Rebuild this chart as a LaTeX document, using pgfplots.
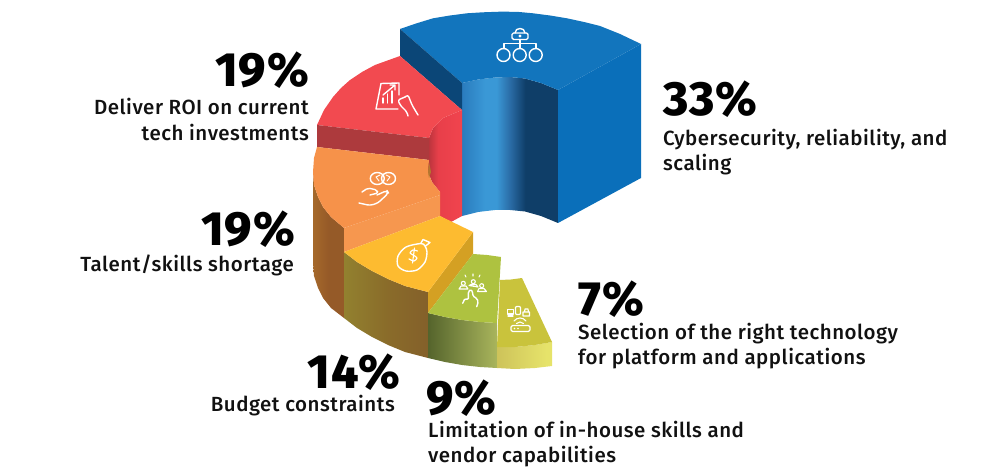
\documentclass[border=0pt]{standalone}
\usepackage{pgfplots}
\pgfplotsset{compat=1.18}
\usepackage{fontspec}
\setmainfont{Fira Sans}
\newfontfamily\lab[LetterSpace=2.5]{Fira Sans Medium}
\newfontfamily\pct[LetterSpace=2]{Fira Sans ExtraBold}
\definecolor{HTML0}{HTML}{0A6FBA}\definecolor{HTML1}{HTML}{1275BD}\definecolor{HTML2}{HTML}{0B4677}
\definecolor{HTML3}{HTML}{F24A50}\definecolor{HTML4}{HTML}{AD3A3D}\definecolor{HTML5}{HTML}{F6924A}
\definecolor{HTML6}{HTML}{F6974F}\definecolor{HTML7}{HTML}{B5762F}\definecolor{HTML8}{HTML}{D4A023}
\definecolor{HTML9}{HTML}{FDBB30}\definecolor{HTMLa}{HTML}{AEC240}\definecolor{HTMLb}{HTML}{C9C33C}
\definecolor{HTMLt}{HTML}{111111}
\definecolor{a0}{HTML}{2A7CBE}\definecolor{a1}{HTML}{3A98D6}\definecolor{a2}{HTML}{2A6CA6}\definecolor{a3}{HTML}{0F3E68}
\pgfdeclarehorizontalshading{sInnerBlue}{100bp}{color(0bp)=(a0);color(25bp)=(a0);color(37bp)=(a1);color(43bp)=(a1);color(50bp)=(a2);color(58bp)=(a3);color(75bp)=(a3);color(100bp)=(a3)}
\definecolor{r0}{HTML}{B8343C}\definecolor{r1}{HTML}{E83F4A}\definecolor{r2}{HTML}{F1444E}
\pgfdeclarehorizontalshading{sRed}{100bp}{color(0bp)=(r0);color(25bp)=(r0);color(40bp)=(r1);color(75bp)=(r2);color(100bp)=(r2)}
\definecolor{o0}{HTML}{A5692B}\definecolor{o1}{HTML}{955A28}
\pgfdeclarehorizontalshading{sOrange}{100bp}{color(0bp)=(o0);color(25bp)=(o0);color(50bp)=(o1);color(75bp)=(o1);color(100bp)=(o1)}
\definecolor{y0}{HTML}{92812F}\definecolor{y1}{HTML}{8A6C2A}\definecolor{y2}{HTML}{84602A}
\pgfdeclarehorizontalshading{sYellow}{100bp}{color(0bp)=(y0);color(25bp)=(y0);color(50bp)=(y1);color(75bp)=(y2);color(100bp)=(y2)}
\definecolor{g0}{HTML}{55642C}\definecolor{g1}{HTML}{A9B55C}
\pgfdeclarehorizontalshading{sGreen}{100bp}{color(0bp)=(g0);color(25bp)=(g0);color(75bp)=(g1);color(100bp)=(g1)}
\definecolor{l0}{HTML}{CDC35A}\definecolor{l1}{HTML}{E6E36A}
\pgfdeclarehorizontalshading{sLime}{100bp}{color(0bp)=(l0);color(25bp)=(l0);color(70bp)=(l1);color(100bp)=(l1)}
\begin{document}
\begin{tikzpicture}
\begin{axis}[width=993pt,height=470pt,scale only axis,xmin=0,xmax=993,ymin=0,ymax=470,y dir=reverse,axis lines=none,clip=false,no markers,
 every axis plot/.append style={draw=none,line width=0pt}]
\path (axis cs:0,0) (axis cs:993,470);
% ---- blue 33%
\addplot[shading=sInnerBlue] coordinates {(462,83)(478,79.5)(495,77.5)(510,77)(525,78.5)(541,83)(558,90)(558,223)(541,216)(525,211.5)(510,210)(495,210)(478,212)(462,216)} -- cycle;
\addplot[fill=HTML0] coordinates {(558,90)(641,44)(641,178)(558,223)} -- cycle;
\addplot[fill=HTML1] coordinates {(400,29)(416,23.5)(433,18.3)(450,15.5)(467,13.3)(483,12.3)(500,11.7)(517,11.8)(533,13.3)(550,15.5)(567,18.3)(584,22)(600,26)(620,34)(641,44)(558,90)(541,83)(525,78.5)(510,77)(495,77.5)(478,79.5)(462,83)} -- cycle;
\addplot[fill=HTML2] coordinates {(400,29)(462,83)(462,110)(400,56)} -- cycle;
% ---- red 19%
\addplot[shading=sRed] coordinates {(429,138)(433,128)(443,118)(462,110)(462,216)(451,222)(440,216)(440,192)(432,182)(428,172)(429,160)} -- cycle;
\addplot[fill=HTML3] coordinates {(400,56)(375,65)(362,72)(350,80)(341,88)(333,97)(324,110)(317,125)(429,138)(433,128)(443,118)(462,110)} -- cycle;
\addplot[fill=HTML4] coordinates {(317,125)(429,138)(429,160)(317,147)} -- cycle;
% ---- orange 19%
\addplot[shading=sOrange] coordinates {(313,172)(314,185)(318,197)(323,207)(331,217)(344,228)(344,318)(331,308)(323,298)(318,288)(314,276)(313,263)} -- cycle;
\addplot[fill=HTML5] coordinates {(317,147)(429,160)(428,172)(432,182)(440,192)(440,195)(344,228)(331,217)(323,207)(318,197)(314,185)(313,172)(314,158)} -- cycle;
\addplot[fill=HTML6] coordinates {(440,195)(344,228)(344,252)(440,216)} -- cycle;
\addplot[fill=HTML7] coordinates {(429,162)(431,172)(429,178)(428,172)} -- cycle;
% ---- yellow 14%
\addplot[shading=sYellow] coordinates {(344,252)(357,262)(372,271)(388,279)(405,286)(428,292)(428,358)(405,352)(388,345)(372,337)(357,328)(344,318)} -- cycle;
\addplot[fill=HTML8] coordinates {(473,232)(428,292)(428,313)(473,254)} -- cycle;
\addplot[fill=HTML9] coordinates {(344,252)(440,216)(473,232)(428,292)(405,286)(388,279)(372,271)(357,262)} -- cycle;
% ---- green 9%
\addplot[shading=sGreen] coordinates {(428,313)(445,317)(462,320)(480,322)(497,323)(497,368)(480,367)(462,365)(445,362)(428,358)} -- cycle;
\addplot[fill=HTMLa] coordinates {(428,313)(473,254)(487,255)(501,257)(497,323)(480,322)(462,320)(445,317)} -- cycle;
% ---- lime 7%
\addplot[shading=sLime] coordinates {(497,347)(515,347)(535,345)(552,342)(552,366)(535,368)(515,369)(497,368)} -- cycle;
\addplot[fill=HTMLb] coordinates {(500,280)(511,279.5)(522,278)(552,342)(535,345)(515,347)(497,347)} -- cycle;
% ---- icons
\begin{scope}[shift={(axis cs:0,0)},x=1pt,y=-1pt,white,line width=1.4pt,line join=round,line cap=round]
% network
\draw[rounded corners=1.5pt] (512,33) rectangle (528,39.5);
\draw (515,33) .. controls (515,27) and (525,27) .. (525,33);
\fill (520,36) circle (1.6);
\draw (520,39.5)--(520,43.5) (504,48)--(504,43.5)--(536,43.5)--(536,48) (520,43.5)--(520,48);
\draw (503.5,55) circle (6.5) (519.7,55) circle (6.5) (535.7,55) circle (6.5);
% tablet
\draw (399,95)--(399,83)--(381,83.5)--(376,109)--(398,109);
\draw (383,103)--(383,98) (387.5,103)--(387.5,94) (392,103)--(392,91);
\draw (383,95)--(395,85) (390,85)--(395,85)--(395,90);
\draw[rounded corners=2pt] (405,97)--(408,95)--(412,105)--(418,115);
\draw[rounded corners=2pt] (405,97)--(398,100)--(400,105)--(407,112)--(408,116);
% brain and hand
\draw (377.3,178.5) ellipse (7 and 6) (388.5,178.5) ellipse (7 and 6);
\draw[line width=.9pt] (380,175)--(376,177)--(379,181) (386,175)--(390,177)--(387,181);
\draw[rounded corners=2pt] (362,192)--(368,188)--(377,190)--(378,193)--(370,195);
\draw[rounded corners=3pt] (377,195)--(387,190.5)--(388.5,193)--(378,203)--(370,205.5)--(359,203);
% bag
\draw plot[smooth cycle] coordinates {(421,243.5)(406,247)(398,256)(398,266)(406,271)(417,270)(425,262)(427,252)(425,246)};
\draw (421,243)--(423,239.5)--(430,242.5)--(425.5,246);
\draw[line width=1.2pt] plot[smooth] coordinates {(417.5,251)(413,250)(410,253)(414,255.5)(417,258)(414,261)(409,259)};
\draw[line width=1.1pt] (414.5,248)--(412.5,263);
% people and finger
\begin{scope}[line width=1.1pt]
\draw (463.3,283.3) circle (2) (473.3,281.7) circle (2) (481.7,285.7) circle (2);
\draw (459,289)--(461,286)--(466,286)--(468,289)--cycle;
\draw (469,285.5)--(471,284.5)--(476,284.5)--(478,287)--cycle;
\draw (477.5,291.5)--(479,288.5)--(484,288.5)--(486.5,291.5)--cycle;
\draw (465,275)--(466,277) (473,274)--(473,276) (480,275)--(479,277);
\end{scope}
\draw[rounded corners=1.5pt] (462.7,303.3)--(465,298.3)--(468.3,300)--(468.3,291.7)--(470.7,289.3)--(472.7,291.7)--(472.7,296)--(476.7,298.3)--(478.3,301.7)--(476.7,306.7);
% devices and router
\begin{scope}[line width=1.1pt]
\draw (507.5,309.5) rectangle (513.5,314) (510.5,314)--(510.5,316) (508,316)--(513,316);
\draw[rounded corners=1pt] (515.5,306.5) rectangle (520.5,314.5);
\draw (523,312) rectangle (529.5,316) (524.5,312)--(525,309)--(528,309)--(528.5,312);
\draw (514,321) .. controls (517,317) and (523,317) .. (526,321);
\draw (516.5,323.5) .. controls (518.5,321.5) and (521.5,321.5) .. (523.5,323.5);
\draw[rounded corners=1.5pt] (511,325.5) rectangle (530,331.5);
\fill (514.5,328.5) circle (.8) (518,328.5) circle (.8);
\end{scope}
\end{scope}
% ---- text
\tikzset{p/.style={font=\pct\fontsize{48}{48}\selectfont,inner sep=0pt,text=black},l/.style={font=\lab\fontsize{20.5}{25}\selectfont,inner sep=0pt,text=HTMLt}}
\node[p,anchor=base east] at (axis cs:309,87) {19\%};
\node[l,anchor=base east] at (axis cs:309,115) {Deliver ROI on current};
\node[l,anchor=base east] at (axis cs:309,141) {tech investments};
\node[p,anchor=base east] at (axis cs:295,246) {19\%};
\node[l,anchor=base east] at (axis cs:294,272) {Talent/skills shortage};
\node[p,anchor=base east] at (axis cs:400,388) {14\%};
\node[l,anchor=base east] at (axis cs:395,411) {Budget constraints};
\node[p,anchor=base west] at (axis cs:426,414) {9\%};
\node[l,anchor=base west] at (axis cs:428,437) {Limitation of in-house skills and};
\node[l,anchor=base west] at (axis cs:428,462) {vendor capabilities};
\node[p,anchor=base west] at (axis cs:578,316) {7\%};
\node[l,anchor=base west] at (axis cs:578,339) {Selection of the right technology};
\node[l,anchor=base west] at (axis cs:578,364) {for platform and applications};
\node[p,anchor=base west] at (axis cs:663,116) {33\%};
\node[l,anchor=base west] at (axis cs:663,146) {Cybersecurity, reliability, and};
\node[l,anchor=base west] at (axis cs:663,171) {scaling};
\end{axis}
\end{tikzpicture}
\end{document}
